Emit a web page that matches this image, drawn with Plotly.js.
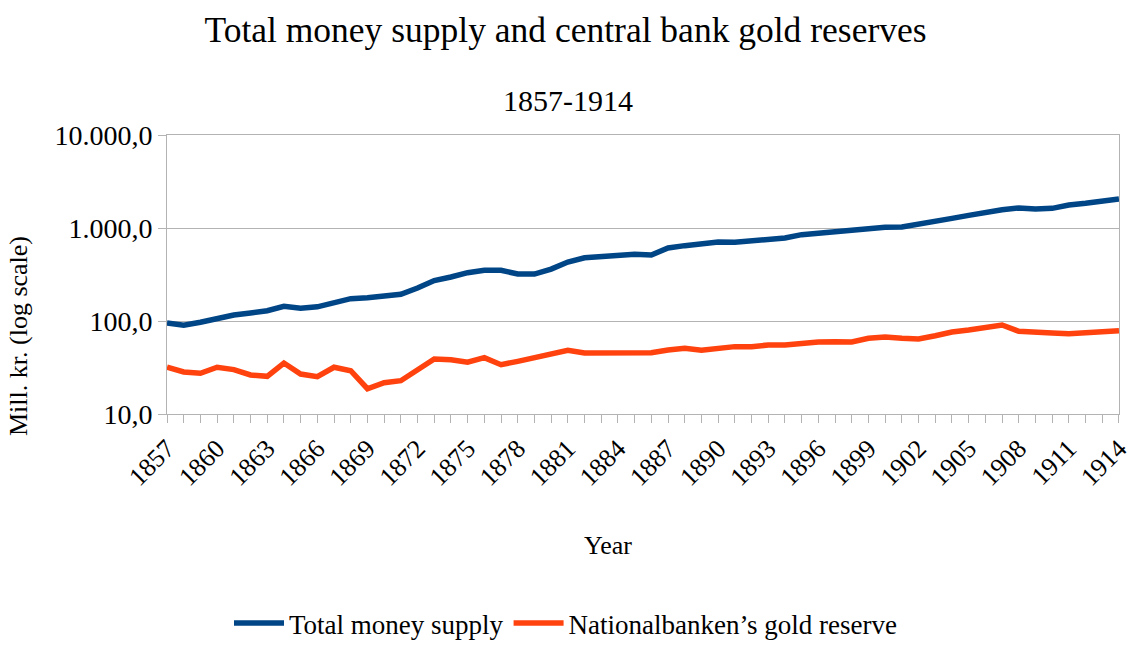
<!DOCTYPE html>
<html>
<head>
<meta charset="utf-8">
<script src="https://cdn.plot.ly/plotly-3.0.1.min.js"></script>
<style>html,body{margin:0;padding:0;background:#fff;}#chart{width:1131px;height:648px;}</style>
</head>
<body>
<div id="chart"></div>
<script>
const years = [];
for (let y = 1857; y <= 1914; y++) years.push(y);

const moneySupply = [
  95, 90, 97, 107, 116, 122, 129, 144, 137, 142,
  156, 174, 178, 189, 194, 226, 272, 297, 331, 351,
  351, 320, 320, 362, 431, 479, 488, 508, 521, 513,
  610, 646, 673, 707, 701, 719, 743, 781, 848, 884,
  921, 960, 992, 1017, 1025, 1113, 1199, 1270, 1368, 1473,
  1574, 1641, 1600, 1627, 1767, 1842, 1967, 2051
];

const goldReserve = [
  31.8, 28.3, 27.4, 31.8, 30.0, 26.3, 25.4, 35.3, 26.9, 25.2,
  31.8, 29.2, 18.7, 21.7, 22.8, 30.0, 39.0, 38.4, 36.0, 40.3,
  33.9, 36.8, 40.0, 43.5, 48.4, 45.3, 45.3, 45.6, 44.6, 45.6,
  48.8, 50.8, 48.4, 50.8, 53.0, 53.0, 55.2, 55.2, 58.0, 59.4,
  60.0, 59.4, 65.1, 67.3, 65.1, 64.0, 69.5, 76.2, 80.0, 86.1,
  90.6, 77.4, 75.0, 74.3, 73.1, 75.0, 77.4, 78.7
];

const seriesNames = ["Total money supply", "Nationalbanken\u2019s gold reserve"];
const yTickVals = [10, 100, 1000, 10000];
const yTickText = ["10,0", "100,0", "1.000,0", "10.000,0"];
const xTickVals = [];
for (let y = 1857; y <= 1914; y += 3) xTickVals.push(y);

const font = "Liberation Serif, Times New Roman, serif";

const traces = [
  {x: years, y: moneySupply, name: seriesNames[0], type: "scatter", mode: "lines",
   line: {color: "#004586", width: 5.5}},
  {x: years, y: goldReserve, name: seriesNames[1], type: "scatter", mode: "lines",
   line: {color: "#ff420e", width: 5.5}}
];

const plotW = 1131 - 167 - 12;

const layout = {
  width: 1131, height: 648,
  paper_bgcolor: "#ffffff", plot_bgcolor: "#ffffff",
  margin: {l: 167, r: 12, t: 135, b: 234},
  font: {family: font, color: "#000000", size: 26},
  title: {text: "Total money supply and central bank gold reserves", x: 0.5, xref: "container",
          y: 1 - 30/648, yanchor: "middle", yref: "container",
          font: {family: font, size: 35.5, color: "#000"}},
  xaxis: {
    type: "linear", range: [1856.999, 1914.001],
    tickvals: xTickVals, ticktext: xTickVals.map(String), tickangle: -45,
    ticklabeloverflow: "allow",
    ticks: "outside", ticklen: 8, tickcolor: "#b3b3b3", tickwidth: 1,
    minor: {dtick: 1, tick0: 1857, ticks: "outside", ticklen: 8, tickcolor: "#b3b3b3", tickwidth: 1, showgrid: false},
    showgrid: false, showline: true, linecolor: "#b3b3b3", linewidth: 1,
    zeroline: false, mirror: true,
    tickfont: {family: font, size: 26, color: "#000"}
  },
  yaxis: {
    type: "log", range: [1, 4],
    tickvals: yTickVals, ticktext: yTickText,
    ticks: "outside", ticklen: 8, tickcolor: "#b3b3b3",
    showgrid: true, gridcolor: "#b3b3b3", gridwidth: 1,
    showline: true, linecolor: "#b3b3b3", linewidth: 1, mirror: true,
    zeroline: false,
    tickfont: {family: font, size: 28, color: "#000"}
  },
  showlegend: true,
  legend: {orientation: "h", x: 0.5, xanchor: "center", xref: "container",
           y: 0, yanchor: "bottom", yref: "container", itemwidth: 50,
           font: {family: font, size: 27, color: "#000"}},
  annotations: [
    {text: "1857-1914", xref: "paper", yref: "paper", x: (568-167)/plotW, y: (414-100)/279,
     xanchor: "center", yanchor: "middle", showarrow: false, font: {family: font, size: 30, color: "#000"}},
    {text: "Year", xref: "paper", yref: "paper", x: (608-167)/plotW, y: (414-545)/279,
     xanchor: "center", yanchor: "middle", showarrow: false, font: {family: font, size: 26, color: "#000"}},
    {text: "Mill. kr. (log scale)", xref: "paper", yref: "paper", x: (18-167)/plotW, y: (414-336)/279,
     xanchor: "center", yanchor: "middle", textangle: -90, showarrow: false, font: {family: font, size: 26, color: "#000"}}
  ]
};

Plotly.newPlot("chart", traces, layout, {displayModeBar: false, staticPlot: true});
</script>
</body>
</html>
